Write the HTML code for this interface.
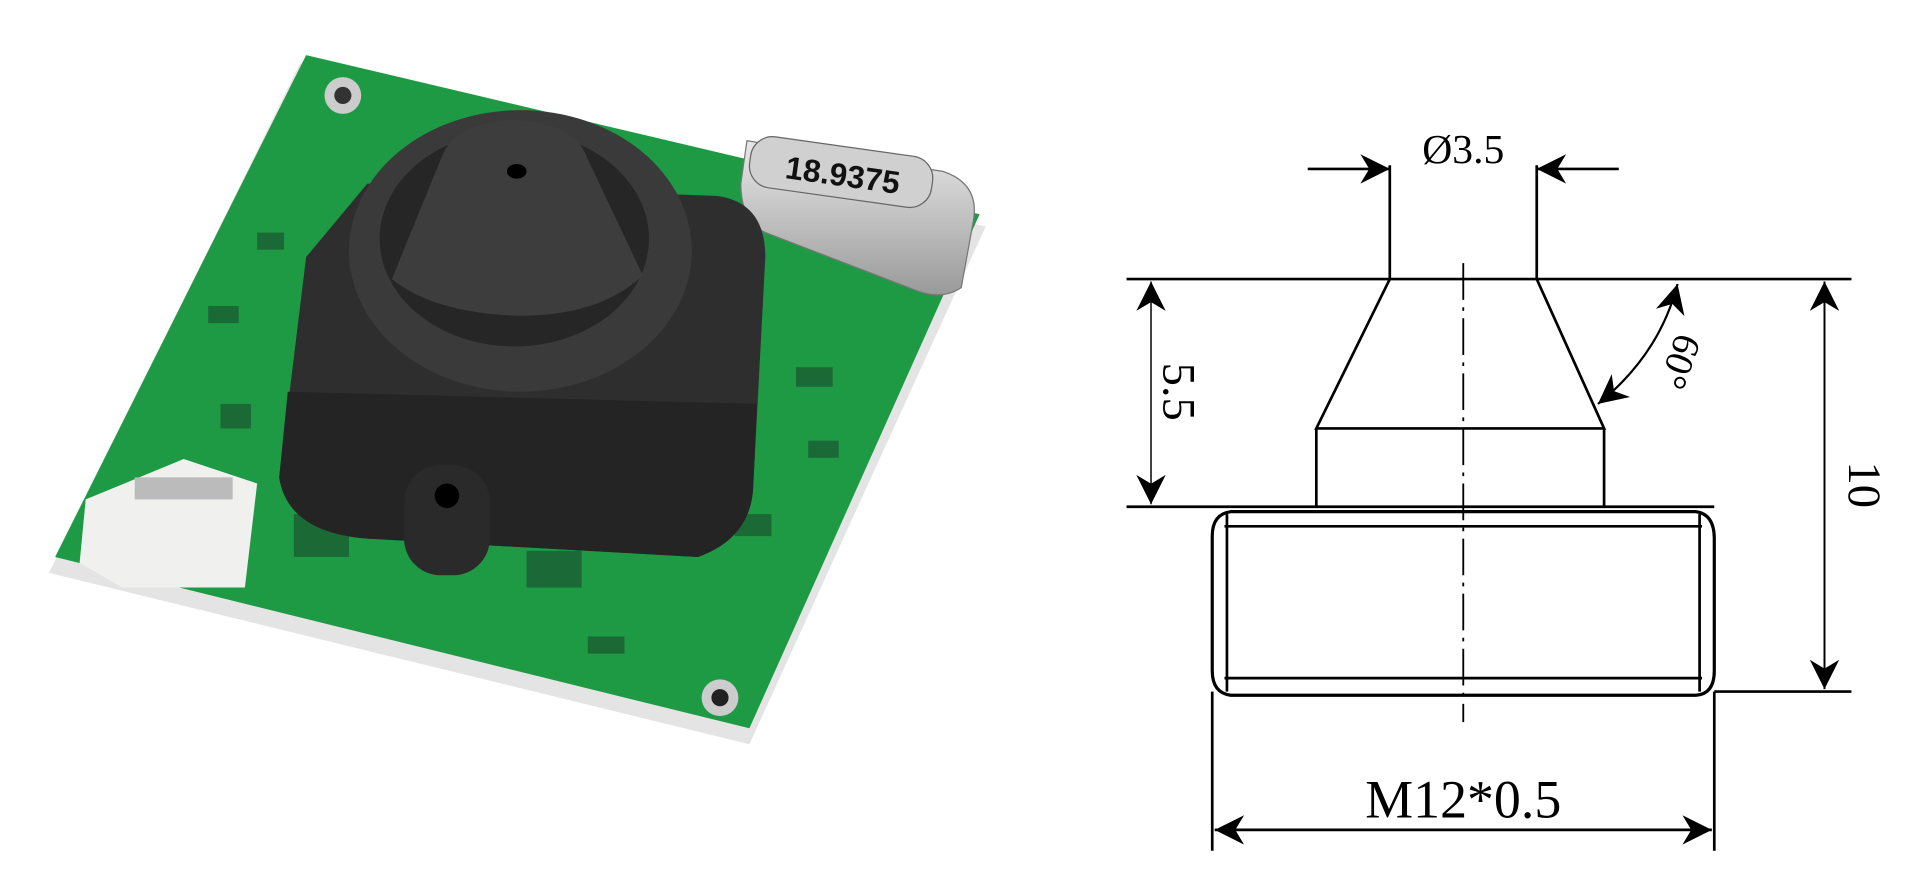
<!DOCTYPE html>
<html><head><meta charset="utf-8"><style>
html,body{margin:0;padding:0;background:#fff;width:1920px;height:896px;overflow:hidden}
svg{display:block}
</style></head><body>
<svg width="1920" height="896" viewBox="0 0 1568 732" preserveAspectRatio="none" xmlns="http://www.w3.org/2000/svg">
<defs>
<marker id="b" viewBox="0 0 10 10" refX="10" refY="5" markerWidth="40" markerHeight="24" orient="auto-start-reverse" markerUnits="userSpaceOnUse"><path d="M0,0 L10,5 L0,10 L3,5z" fill="#000"/></marker>
<linearGradient id="cr" x1="0" y1="0" x2="0" y2="1"><stop offset="0" stop-color="#e8e8e8"/><stop offset="1" stop-color="#9a9a9a"/></linearGradient>
</defs>
<!-- PCB -->
<polygon points="40,468 245,52 805,185 612,608" fill="#e4e4e4"/>
<polygon points="45,455 250,45 800,175 612,595" fill="#1e9a45"/>
<g fill="#1a5530" opacity="0.7">
<rect x="170" y="250" width="25" height="14"/><rect x="210" y="190" width="22" height="14"/><rect x="650" y="300" width="30" height="16"/>
<rect x="430" y="450" width="45" height="30"/><rect x="240" y="420" width="45" height="35"/><rect x="600" y="420" width="30" height="18"/>
<rect x="480" y="520" width="30" height="14"/><rect x="660" y="360" width="25" height="14"/><rect x="180" y="330" width="25" height="20"/>
</g>
<circle cx="280" cy="78" r="15" fill="#ccc"/><circle cx="280" cy="78" r="7" fill="#333"/>
<circle cx="588" cy="570" r="15" fill="#ccc"/><circle cx="588" cy="570" r="7" fill="#222"/>
<!-- connector -->
<polygon points="70,408 150,375 210,395 200,480 100,480 65,460" fill="#f0f0ee"/>
<rect x="110" y="390" width="80" height="18" fill="#bbb"/>
<!-- crystal -->
<path d="M610,115 L770,140 Q800,150 795,180 L785,235 Q770,245 750,238 L625,190 Q605,180 605,150 Z" fill="url(#cr)" stroke="#777"/>
<rect x="612" y="120" width="150" height="42" rx="18" fill="#d0d0d0" stroke="#666" transform="rotate(8 690 140)"/>
<text x="688" y="152" font-family="Liberation Sans, sans-serif" font-size="26" font-weight="bold" text-anchor="middle" fill="#111" transform="rotate(8 688 145)">18.9375</text>
<!-- camera block -->
<path d="M250,210 L300,150 L585,160 Q625,165 625,210 L615,400 Q612,440 570,455 L300,440 Q235,435 228,390 Z" fill="#2e2e2e"/>
<path d="M228,390 Q235,435 300,440 L570,455 Q612,440 615,400 L618,330 L235,320 Z" fill="#242424"/>
<ellipse cx="425" cy="205" rx="140" ry="115" fill="#3a3a3a"/>
<ellipse cx="420" cy="195" rx="110" ry="88" fill="#262626"/>
<path d="M360,130 Q370,100 420,98 Q470,100 480,130 L525,225 Q490,258 425,258 Q355,256 320,228 Z" fill="#3d3d3d"/>
<ellipse cx="422" cy="140" rx="8" ry="6" fill="#000"/>
<rect x="330" y="380" width="70" height="90" rx="30" fill="#2a2a2a"/>
<circle cx="365" cy="405" r="10" fill="#000"/>
<!-- Drawing -->
<g stroke="#000" fill="none" stroke-width="2.2">
<line x1="920" y1="228" x2="1512" y2="228"/>
<line x1="920" y1="414" x2="1400" y2="414"/>
<line x1="1400" y1="565" x2="1512" y2="565"/>
<line x1="1135" y1="135" x2="1135" y2="228"/>
<line x1="1255" y1="135" x2="1255" y2="228"/>
<polyline points="1135,228 1075,350 1310,350 1255,228"/>
<line x1="1075" y1="350" x2="1075" y2="414"/>
<line x1="1310" y1="350" x2="1310" y2="414"/>
<path d="M1005,418 L1385,418 Q1400,420 1400,440 L1400,548 Q1400,567 1385,568 L1005,568 Q990,566 990,548 L990,438 Q990,420 1005,418 Z" stroke-width="2.6"/>
<line x1="1000" y1="430" x2="1390" y2="430"/>
<line x1="1000" y1="554" x2="1390" y2="554"/>
<line x1="1002" y1="420" x2="1002" y2="565"/>
<line x1="1388" y1="420" x2="1388" y2="565"/>
<line x1="990" y1="565" x2="990" y2="695"/>
<line x1="1400" y1="565" x2="1400" y2="695"/>
<line x1="1195" y1="215" x2="1195" y2="590" stroke-width="1.5" stroke-dasharray="30,6,3,6"/>
<line x1="1068" y1="138" x2="1135" y2="138" marker-end="url(#b)"/>
<line x1="1322" y1="138" x2="1255" y2="138" marker-end="url(#b)"/>
<line x1="940" y1="230" x2="940" y2="412" marker-start="url(#b)" marker-end="url(#b)" stroke-width="1.2"/>
<line x1="1490" y1="230" x2="1490" y2="563" marker-start="url(#b)" marker-end="url(#b)" stroke-width="1.6"/>
<line x1="992" y1="678" x2="1398" y2="678" marker-start="url(#b)" marker-end="url(#b)"/>
<path d="M1370,232 Q1355,290 1305,330" marker-start="url(#b)" marker-end="url(#b)" stroke-width="1.8"/>
</g>
<g font-family="Liberation Serif, serif" fill="#000">
<text x="1195" y="133" font-size="34" text-anchor="middle">Ø3.5</text>
<text x="1195" y="668" font-size="44" text-anchor="middle">M12*0.5</text>
<text transform="translate(950,320) rotate(90)" font-size="38" text-anchor="middle">5.5</text>
<text transform="translate(1510,396) rotate(90)" font-size="38" text-anchor="middle">10</text>
<text transform="translate(1362,292) rotate(110)" font-size="32" text-anchor="middle">60°</text>
</g>
</svg>
</body></html>
